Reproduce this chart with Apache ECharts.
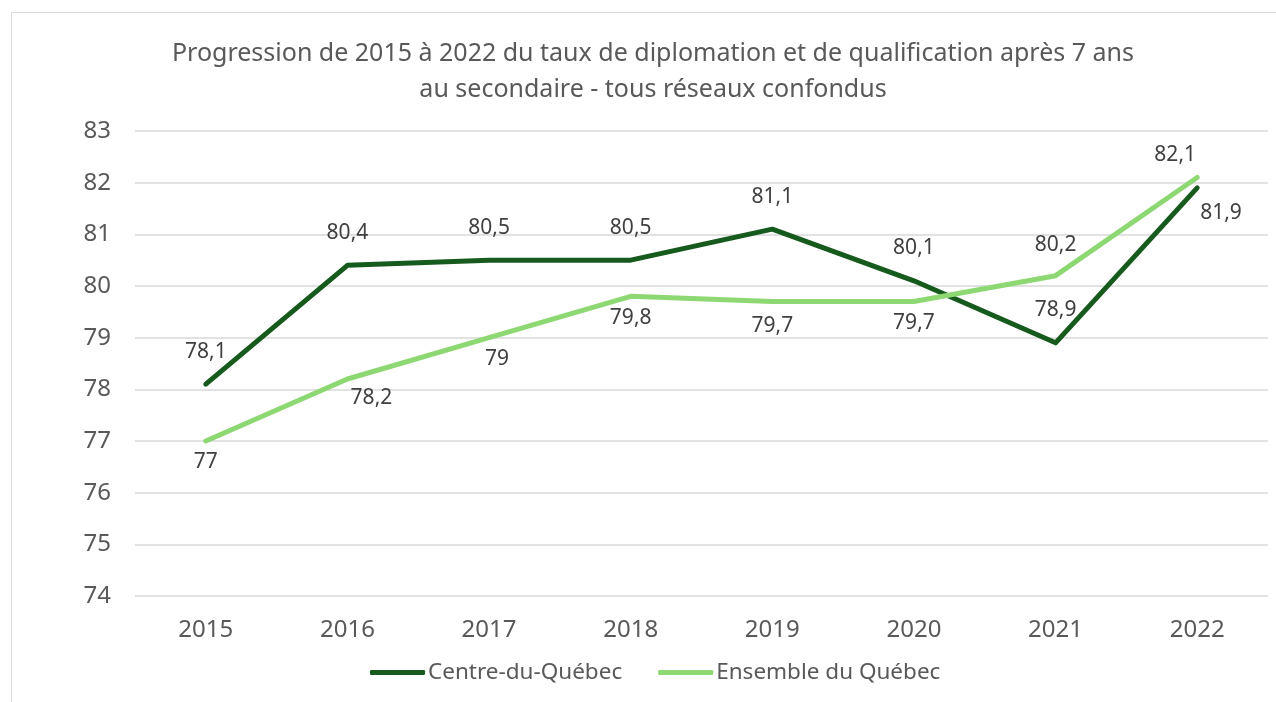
<!DOCTYPE html>
<html>
<head>
<meta charset="utf-8">
<script src="https://cdn.jsdelivr.net/npm/echarts@6/dist/echarts.min.js"></script>
<style>
  html, body { margin: 0; padding: 0; background: #fff; }
  #panel { width: 1276px; height: 702px; }
</style>
</head>
<body>
<div id="panel"></div>
<script>
const years = ['2015', '2016', '2017', '2018', '2019', '2020', '2021', '2022'];
const centreDuQuebec = [78.1, 80.4, 80.5, 80.5, 81.1, 80.1, 78.9, 81.9];
const ensembleQuebec = [77, 78.2, 79, 79.8, 79.7, 79.7, 80.2, 82.1];
const seriesNames = ['Centre-du-Québec', 'Ensemble du Québec'];
const yTicks = [74, 75, 76, 77, 78, 79, 80, 81, 82, 83];

const FONT = 'Noto Sans';
const DARK = '#165a1d';
const LIGHT = '#8ed873';

// label placement per point (Excel put some of them by hand)
const darkLabels = [
  {}, {}, {}, {}, {}, {}, {},
  { position: 'right', distance: 2, offset: [0, 25] },
];
const lightLabels = [
  {},
  { offset: [24, -2] },
  { offset: [8, 0] },
  {},
  { offset: [0, 3] },
  {},
  { position: 'top', distance: 19 },
  { position: 'top', distance: 22, offset: [-22, 11] },
];

const fmt = (v) => String(v).replace('.', ',');

const myChart = echarts.init(document.getElementById('panel'));

const option = {
  backgroundColor: '#ffffff',
  animation: false,
  textStyle: { fontFamily: FONT },
  graphic: [
    {
      type: 'rect',
      shape: { x: 11.5, y: 12.5, width: 2000, height: 2000 },
      style: { fill: 'none', stroke: '#d9d9d9', lineWidth: 1 },
      silent: true,
    },
  ],
  title: {
    text: 'Progression de 2015 à 2022 du taux de diplomation et de qualification après 7 ans\nau secondaire - tous réseaux confondus',
    left: 648,
    textAlign: 'center',
    top: 31,
    textStyle: {
      fontFamily: FONT,
      fontSize: 25,
      fontWeight: 'normal',
      color: '#595959',
      lineHeight: 36,
    },
  },
  legend: {
    data: seriesNames,
    left: 365,
    top: 656,
    itemWidth: 55,
    itemHeight: 5,
    itemGap: 36,
    icon: 'roundRect',
    textStyle: {
      fontFamily: FONT,
      fontSize: 22.5,
      color: '#595959',
      padding: [0, 0, 0, -2],
    },
  },
  grid: {
    left: 135,
    right: 8,
    top: 131,
    bottom: 106,
  },
  xAxis: {
    type: 'category',
    data: years,
    boundaryGap: true,
    axisLine: { show: false },
    axisTick: { show: false },
    axisLabel: {
      margin: 22,
      fontFamily: FONT,
      fontSize: 24,
      color: '#595959',
    },
  },
  yAxis: {
    type: 'value',
    min: yTicks[0],
    max: yTicks[yTicks.length - 1],
    interval: 1,
    axisLine: { show: false },
    axisTick: { show: false },
    splitLine: { lineStyle: { color: '#d9d9d9', width: 1.5 } },
    axisLabel: {
      margin: 24,
      fontFamily: FONT,
      fontSize: 24,
      color: '#595959',
    },
  },
  series: [
    {
      name: seriesNames[0],
      type: 'line',
      data: centreDuQuebec.map((v, i) => ({ value: v, label: darkLabels[i] })),
      color: DARK,
      symbol: 'circle',
      symbolSize: 2,
      lineStyle: { width: 5, color: DARK, cap: 'round', join: 'round' },
      label: {
        show: true,
        position: 'top',
        distance: 21,
        fontFamily: FONT,
        fontSize: 21,
        color: '#404040',
        formatter: (p) => fmt(p.value),
      },
      z: 3,
    },
    {
      name: seriesNames[1],
      type: 'line',
      data: ensembleQuebec.map((v, i) => ({ value: v, label: lightLabels[i] })),
      color: LIGHT,
      symbol: 'circle',
      symbolSize: 2,
      lineStyle: { width: 5, color: LIGHT, cap: 'round', join: 'round' },
      label: {
        show: true,
        position: 'bottom',
        distance: 10,
        fontFamily: FONT,
        fontSize: 21,
        color: '#404040',
        formatter: (p) => fmt(p.value),
      },
      z: 4,
    },
  ],
};

myChart.setOption(option);
</script>
</body>
</html>
